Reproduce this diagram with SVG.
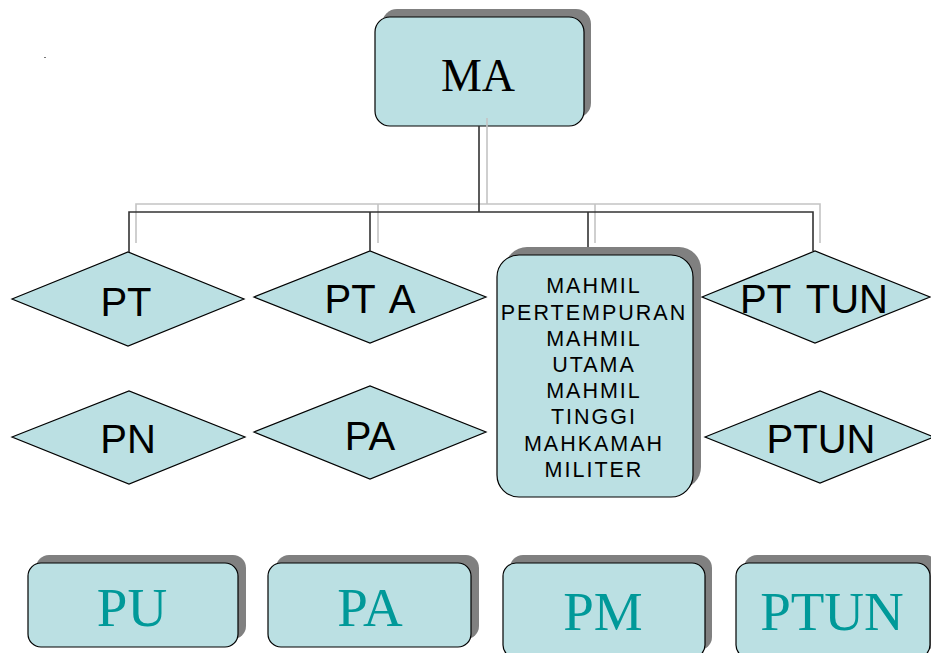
<svg xmlns="http://www.w3.org/2000/svg" width="931" height="653" viewBox="0 0 931 653">
<style>
.fill{fill:#BBE0E3;stroke:#000;stroke-width:1.2}
.shadow{fill:#808080}
.sans{font-family:"Liberation Sans",Arial,sans-serif;fill:#000;text-anchor:middle}
.serif{font-family:"Liberation Serif","Times New Roman",serif;text-anchor:middle}
.teal{fill:#009999;font-size:55px}
.dia{font-size:40px}
.wide{word-spacing:5px}
.mil{font-size:21.5px;letter-spacing:2px}
.blk{stroke:#333;stroke-width:1.6;fill:none}
.gry{stroke:#c4c4c4;stroke-width:1.6;fill:none}
</style>
<rect x="44" y="57" width="2" height="1" fill="#777"/>
<g id="MA">
<rect class="shadow" x="382" y="9" width="209" height="109" rx="15"/>
<rect class="fill" x="375" y="17" width="209" height="109" rx="15"/>
<text class="serif" x="478" y="91" font-size="46" fill="#000">MA</text>
</g>
<g id="PT">
<polygon class="fill" points="12,299 128,252 244,299 128,346"/>
<text class="sans dia" x="126" y="316">PT</text>
</g>
<g id="PN">
<polygon class="fill" points="12,437 129,391 245,437 129,484"/>
<text class="sans dia" x="128" y="453">PN</text>
</g>
<g id="PTA">
<polygon class="fill" points="254,297 370,251 486,297 370,343"/>
<text class="sans dia wide" x="370" y="313">PT A</text>
</g>
<g id="PA-d">
<polygon class="fill" points="254,432 370,386 486,432 370,479"/>
<text class="sans dia" x="370" y="450">PA</text>
</g>
<g id="PTTUN">
<polygon class="fill" points="702,297 815,251 930,297 815,343"/>
<text class="sans dia wide" x="814" y="313">PT TUN</text>
</g>
<g id="PTUN-d">
<polygon class="fill" points="705,437 820,391 934,437 820,483"/>
<text class="sans dia" x="821" y="453">PTUN</text>
</g>
<g id="MAHMIL">
<rect class="shadow" x="505" y="247" width="196" height="242" rx="22"/>
<rect class="fill" x="497" y="255" width="196" height="242" rx="22"/>
<g class="sans mil">
<text x="594" y="293">MAHMIL</text>
<text x="594" y="319.5">PERTEMPURAN</text>
<text x="594" y="345.5">MAHMIL</text>
<text x="594" y="371.5">UTAMA</text>
<text x="594" y="398">MAHMIL</text>
<text x="594" y="424">TINGGI</text>
<text x="594" y="450.5">MAHKAMAH</text>
<text x="594" y="476.5">MILITER</text>
</g>
</g>
<g id="PU">
<rect class="shadow" x="36" y="555" width="210" height="84" rx="13"/>
<rect class="fill" x="28" y="563" width="210" height="84" rx="13"/>
<text class="serif teal" x="132" y="626">PU</text>
</g>
<g id="PA">
<rect class="shadow" x="276" y="555" width="203" height="84" rx="13"/>
<rect class="fill" x="268" y="563" width="203" height="84" rx="13"/>
<text class="serif teal" x="370" y="626">PA</text>
</g>
<g id="PM">
<rect class="shadow" x="510" y="555" width="202" height="95" rx="13"/>
<rect class="fill" x="503" y="563" width="202" height="95" rx="13"/>
<text class="serif teal" x="603" y="630" font-size="56">PM</text>
</g>
<g id="PTUN">
<rect class="shadow" x="744" y="555" width="194" height="95" rx="13"/>
<rect class="fill" x="736" y="563" width="194" height="95" rx="13"/>
<text class="serif teal" x="832" y="630" font-size="56">PTUN</text>
</g>
<g id="connectors">
<path class="gry" d="M487,118 V204 M136,243 V204 H820 V243 M378,204 V243 M595,204 V243"/>
<path class="blk" d="M479,126 V212 M129,252 V212 H813 V251 M370,212 V251 M588,212 V247"/>
</g>
</svg>
